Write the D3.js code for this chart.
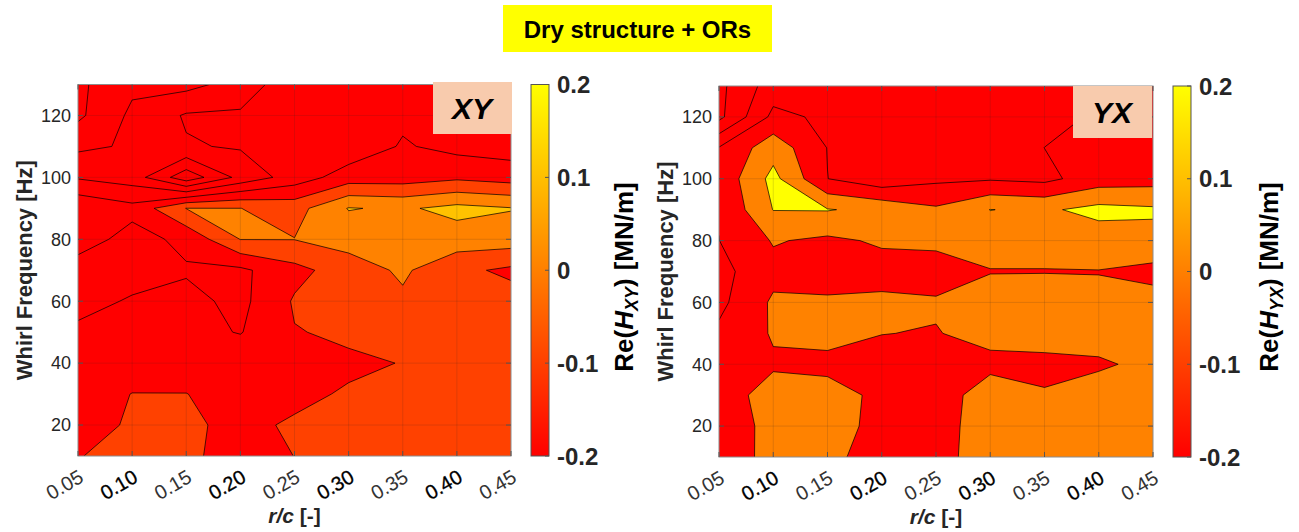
<!DOCTYPE html>
<html>
<head>
<meta charset="utf-8">
<script src="https://cdn.jsdelivr.net/npm/d3@7"></script>
<style>
  body { margin: 0; background: #fff; }
  svg text { font-family: "Liberation Sans", Arial, sans-serif; }
</style>
</head>
<body>
<svg id="chart" width="1299" height="532"></svg>
<script>
// clearance ratio columns and whirl frequency rows of the measured grid
var rcValues = [0.05, 0.10, 0.15, 0.20, 0.25, 0.30, 0.35, 0.40, 0.45];
var freqValues = [10, 20, 30, 40, 50, 60, 70, 80, 90, 100, 110, 120, 130];
var xTickLabels = ["0.05", "0.10", "0.15", "0.20", "0.25", "0.30", "0.35", "0.40", "0.45"];
var yTicks = [20, 40, 60, 80, 100, 120];
var cbTicks = [-0.2, -0.1, 0, 0.1, 0.2];
var cbTickLabels = ["-0.2", "-0.1", "0", "0.1", "0.2"];

// contour levels used by each plot
var xyLevels = [-0.5, -0.4, -0.3, -0.2, -0.1, 0, 0.1];
var yxLevels = [-0.6, -0.4, -0.2, 0, 0.2];

// Re(H_XY) [MN/m], one row per frequency (10 Hz first), one value per r/c
var xyValues = [
  [-0.105, -0.06, -0.06, -0.185, -0.098, -0.07, -0.06, -0.06, -0.06],
  [-0.14, -0.088, -0.09, -0.115, -0.092, -0.07, -0.06, -0.06, -0.06],
  [-0.15, -0.098, -0.098, -0.148, -0.115, -0.093, -0.07, -0.06, -0.06],
  [-0.16, -0.15, -0.16, -0.13, -0.15, -0.112, -0.098, -0.05, -0.05],
  [-0.17, -0.16, -0.17, -0.205, -0.104, -0.087, -0.06, -0.05, -0.06],
  [-0.25, -0.185, -0.172, -0.226, -0.09, -0.06, -0.017, -0.05, -0.06],
  [-0.25, -0.26, -0.21, -0.22, -0.13, -0.05, 0.016, -0.076, -0.12],
  [-0.15, -0.238, -0.175, 0.002, 0.002, 0.04, 0.06, 0.053, 0.05],
  [-0.114, -0.17, 0.002, 0.001, -0.038, 0.105, 0.086, 0.13, 0.105],
  [-0.31, -0.347, -0.564, -0.369, -0.254, -0.15, -0.15, -0.12, -0.145],
  [-0.42, -0.388, -0.308, -0.291, -0.27, -0.27, -0.19, -0.23, -0.245],
  [-0.52, -0.38, -0.29, -0.285, -0.26, -0.25, -0.22, -0.25, -0.25],
  [-0.52, -0.42, -0.43, -0.36, -0.23, -0.24, -0.24, -0.25, -0.25]
];

// Re(H_YX) [MN/m]
var yxValues = [
  [-0.19, 0.1, 0.05, -0.089, -0.07, 0.1, 0.1, 0.1, 0.1],
  [-0.194, 0.1, 0.07, -0.05, -0.08, 0.1, 0.1, 0.1, 0.1],
  [-0.089, 0.076, 0.06, -0.034, -0.1, 0.1, 0.02, 0.067, 0.1],
  [-0.15, -0.024, -0.04, -0.06, -0.1, -0.05, -0.06, -0.02, 0.036],
  [-0.162, 0.018, 0.05, 0.003, -0.0086, 0.06, 0.1, 0.063, 0.08],
  [-0.25, 0.03, 0.0316, 0.04, 0.02, 0.115, 0.157, 0.04, 0.066],
  [-0.26, -0.06, -0.1, -0.074, -0.08, -0.01, -0.01, -0.005, -0.052],
  [-0.202, 0.015, -0.037, 0.025, 0.04, 0.1, 0.1, 0.093, 0.133],
  [-0.19, 0.205, 0.21, 0.15, 0.03, 0.203, 0.17, 0.26, 0.23],
  [-0.15, 0.26, -0.198, -0.336, -0.24, -0.22, -0.25, -0.1, -0.08],
  [-0.19, 0.12, -0.205, -0.3, -0.3, -0.3, -0.199, -0.15, -0.16],
  [-0.65, -0.15, -0.236, -0.32, -0.32, -0.32, -0.25, -0.18, -0.18],
  [-0.65, -0.3, -0.3, -0.33, -0.33, -0.33, -0.3, -0.21, -0.19]
];

var svg = d3.select("#chart");
var textColor = "#262626";

// matlab "autumn" colormap, 64 entries, clim [-0.2, 0.2]
function autumn(v) {
  var t = (v + 0.2) / 0.4;
  var idx = Math.floor(t * 64);
  idx = Math.max(0, Math.min(63, idx));
  var g = Math.round(idx / 63 * 255);
  return d3.rgb(255, g, 0).formatHex();
}

// title
svg.append("rect")
  .attr("x", 503).attr("y", 5).attr("width", 269).attr("height", 47)
  .attr("fill", "#ffff00");
svg.append("text")
  .attr("x", 637.5).attr("y", 37.5)
  .attr("text-anchor", "middle")
  .style("font-size", "24px").style("font-weight", "bold")
  .attr("fill", "#000")
  .text("Dry structure + ORs");

var panels = [
  {name: "XY", values: xyValues, levels: xyLevels,
   left: 78, right: 511, top: 84.5, bottom: 456,
   cbLeft: 531, cbRight: 549, yLabelX: 32, cbLabelX: 633, boxX: 433, boxY: 82},
  {name: "YX", values: yxValues, levels: yxLevels,
   left: 719, right: 1153, top: 86, bottom: 457,
   cbLeft: 1173, cbRight: 1191, yLabelX: 673, cbLabelX: 1278, boxX: 1073, boxY: 86}
];

var defs = svg.append("defs");
var grad = defs.append("linearGradient")
  .attr("id", "autumnGrad")
  .attr("x1", 0).attr("y1", 1).attr("x2", 0).attr("y2", 0);
grad.append("stop").attr("offset", "0%").attr("stop-color", "#ff0000");
grad.append("stop").attr("offset", "100%").attr("stop-color", "#ffff00");

panels.forEach(function(p, k) {
  var n = rcValues.length, m = freqValues.length;

  var x = d3.scaleLinear().domain([0.05, 0.45]).range([p.left, p.right]);
  var y = d3.scaleLinear().domain([10, 130]).range([p.bottom, p.top]);

  // contour grid coordinates -> data coordinates (value i sits at i + 0.5)
  var gx = d3.scaleLinear().domain([0.5, n - 0.5]).range([rcValues[0], rcValues[n - 1]]);
  var gy = d3.scaleLinear().domain([0.5, m - 0.5]).range([freqValues[0], freqValues[m - 1]]);
  var proj = d3.geoTransform({
    point: function(px, py) { this.stream.point(x(gx(px)), y(gy(py))); }
  });
  var path = d3.geoPath(proj);

  var contours = d3.contours()
    .size([n, m])
    .thresholds(p.levels)(p.values.flat());

  defs.append("clipPath").attr("id", "clip" + k)
    .append("rect")
    .attr("x", p.left).attr("y", p.top)
    .attr("width", p.right - p.left).attr("height", p.bottom - p.top);

  var g = svg.append("g").attr("clip-path", "url(#clip" + k + ")");

  // lowest band
  g.append("rect")
    .attr("x", p.left).attr("y", p.top)
    .attr("width", p.right - p.left).attr("height", p.bottom - p.top)
    .attr("fill", autumn(p.levels[0] - 0.1));

  g.selectAll("path.fill")
    .data(contours)
    .enter().append("path")
    .attr("class", "fill")
    .attr("d", path)
    .attr("fill", function(d) { return autumn(d.value); })
    .attr("fill-rule", "evenodd");

  // grid on top
  g.selectAll("line.gx")
    .data(rcValues.slice(1, -1))
    .enter().append("line")
    .attr("x1", function(d) { return x(d); }).attr("x2", function(d) { return x(d); })
    .attr("y1", p.top).attr("y2", p.bottom)
    .attr("stroke", "rgba(38,38,38,0.15)").attr("stroke-width", 1);
  g.selectAll("line.gy")
    .data(yTicks)
    .enter().append("line")
    .attr("y1", function(d) { return y(d); }).attr("y2", function(d) { return y(d); })
    .attr("x1", p.left).attr("x2", p.right)
    .attr("stroke", "rgba(38,38,38,0.15)").attr("stroke-width", 1);

  g.selectAll("path.line")
    .data(contours)
    .enter().append("path")
    .attr("class", "line")
    .attr("d", path)
    .attr("fill", "none")
    .attr("stroke", "#000")
    .attr("stroke-width", 0.7);

  // axes box and inner ticks
  svg.append("rect")
    .attr("x", p.left).attr("y", p.top)
    .attr("width", p.right - p.left).attr("height", p.bottom - p.top)
    .attr("fill", "none").attr("stroke", "#8c8c8c").attr("stroke-width", 1);

  rcValues.forEach(function(d) {
    svg.append("line").attr("x1", x(d)).attr("x2", x(d))
      .attr("y1", p.bottom).attr("y2", p.bottom - 5)
      .attr("stroke", "#555").attr("stroke-width", 1);
    svg.append("line").attr("x1", x(d)).attr("x2", x(d))
      .attr("y1", p.top).attr("y2", p.top + 5)
      .attr("stroke", "#555").attr("stroke-width", 1);
  });
  yTicks.forEach(function(d) {
    svg.append("line").attr("x1", p.left).attr("x2", p.left + 5)
      .attr("y1", y(d)).attr("y2", y(d))
      .attr("stroke", "#555").attr("stroke-width", 1);
    svg.append("line").attr("x1", p.right).attr("x2", p.right - 5)
      .attr("y1", y(d)).attr("y2", y(d))
      .attr("stroke", "#555").attr("stroke-width", 1);
  });

  // x tick labels, rotated
  svg.selectAll("text.xt" + k)
    .data(rcValues)
    .enter().append("text")
    .attr("class", "xt" + k)
    .attr("transform", function(d) {
      return "translate(" + (x(d) + 7) + "," + (p.bottom + 25) + ") rotate(-30)";
    })
    .attr("text-anchor", "end")
    .style("font-size", "20px")
    .attr("fill", function(d, i) { return i % 2 ? "#000" : "#333"; })
    .attr("stroke", function(d, i) { return i % 2 ? "#000" : "none"; })
    .attr("stroke-width", 0.3)
    .text(function(d, i) { return xTickLabels[i]; });

  // y tick labels
  svg.selectAll("text.yt" + k)
    .data(yTicks)
    .enter().append("text")
    .attr("class", "yt" + k)
    .attr("x", p.left - 7)
    .attr("y", function(d) { return y(d); })
    .attr("dy", "0.35em")
    .attr("text-anchor", "end")
    .style("font-size", "18px")
    .attr("fill", textColor)
    .text(function(d) { return d; });

  // axis labels
  var xl = svg.append("text")
    .attr("x", (p.left + p.right) / 2).attr("y", p.bottom + 67)
    .attr("text-anchor", "middle")
    .style("font-size", "21px").style("font-weight", "bold")
    .attr("fill", textColor);
  xl.append("tspan").style("font-style", "italic").text("r/c");
  xl.append("tspan").text(" [-]");

  svg.append("text")
    .attr("transform", "translate(" + p.yLabelX + "," + ((p.top + p.bottom) / 2) + ") rotate(-90)")
    .attr("text-anchor", "middle")
    .style("font-size", "22px").style("font-weight", "bold")
    .attr("fill", textColor)
    .text("Whirl Frequency [Hz]");

  // corner label
  svg.append("rect")
    .attr("x", p.boxX).attr("y", p.boxY).attr("width", 79).attr("height", 52)
    .attr("fill", "#f8cbad");
  svg.append("text")
    .attr("x", p.boxX + 39).attr("y", p.boxY + 37)
    .attr("text-anchor", "middle")
    .style("font-size", "30px").style("font-weight", "bold").style("font-style", "italic")
    .attr("fill", "#000")
    .text(p.name);

  // colorbar
  var cy = d3.scaleLinear().domain([-0.2, 0.2]).range([p.bottom, p.top]);
  svg.append("rect")
    .attr("x", p.cbLeft).attr("y", p.top)
    .attr("width", p.cbRight - p.cbLeft).attr("height", p.bottom - p.top)
    .attr("fill", "url(#autumnGrad)")
    .attr("stroke", "#555").attr("stroke-width", 1);
  cbTicks.forEach(function(d) {
    svg.append("line").attr("x1", p.cbRight).attr("x2", p.cbRight - 4)
      .attr("y1", cy(d)).attr("y2", cy(d))
      .attr("stroke", "#555").attr("stroke-width", 1);
  });
  svg.selectAll("text.cb" + k)
    .data(cbTicks)
    .enter().append("text")
    .attr("class", "cb" + k)
    .attr("x", p.cbRight + 8)
    .attr("y", function(d) { return cy(d); })
    .attr("dy", "0.36em")
    .style("font-size", "24px").style("font-weight", "bold")
    .attr("fill", textColor)
    .text(function(d, i) { return cbTickLabels[i]; });

  var cl = svg.append("text")
    .attr("transform", "translate(" + p.cbLabelX + "," + 277 + ") rotate(-90)")
    .attr("text-anchor", "middle")
    .style("font-size", "26px").style("font-weight", "bold")
    .attr("fill", "#000");
  cl.append("tspan").text("Re(");
  cl.append("tspan").style("font-style", "italic").text("H");
  cl.append("tspan").style("font-style", "italic").style("font-size", "18px")
    .attr("dy", 5).text(p.name);
  cl.append("tspan").attr("dy", -5).text(")");
  cl.append("tspan").attr("dx", 8).text("[MN/m]");
});
</script>
</body>
</html>
